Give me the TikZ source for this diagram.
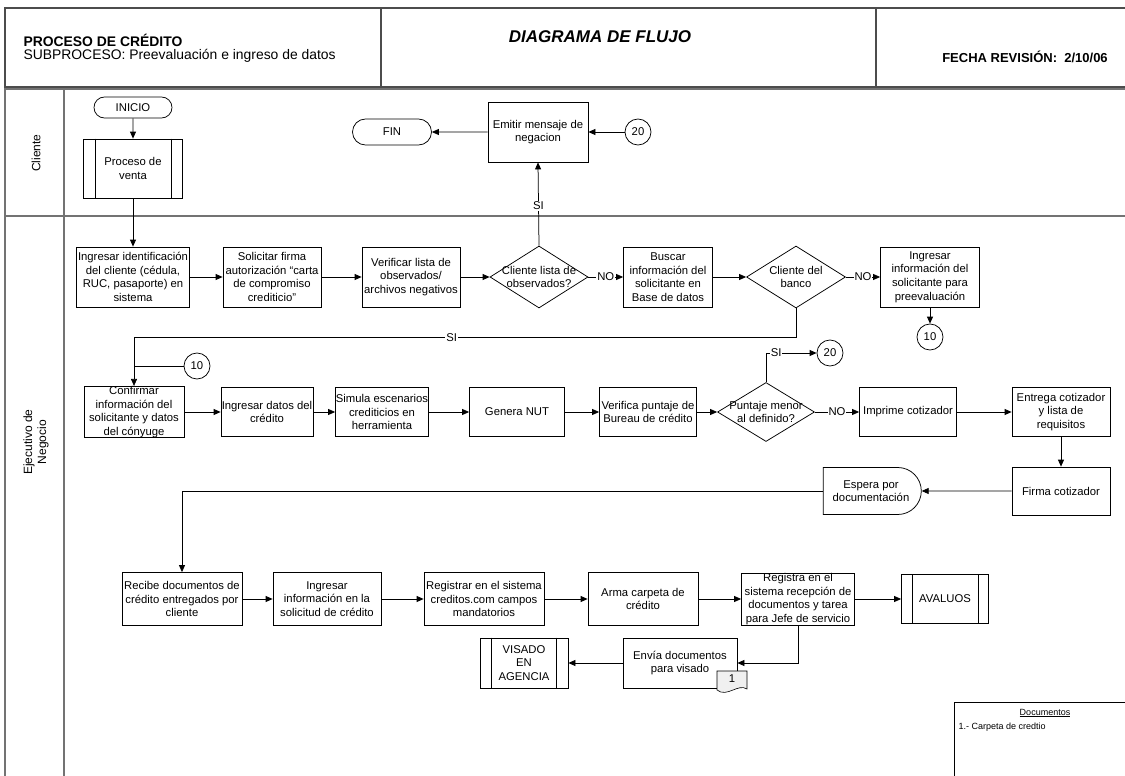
\documentclass[tikz,border=0pt]{standalone}
\usepackage{fontspec}
\setmainfont{Liberation Sans}
\usetikzlibrary{shapes.geometric,shapes.misc,arrows.meta}
\newcommand{\flowfont}{\fontsize{11.3}{13.6}\selectfont}
\newcommand{\lanefont}{\fontsize{12}{14}\selectfont}
\newcommand{\notefont}{\fontsize{9}{11}\selectfont}

\begin{document}
\begin{tikzpicture}[x=1pt,y=-1pt,
  lane/.style={draw=black!55,line width=1.6pt},
  hdrframe/.style={draw=black!70,line width=1.4pt},
  stepbox/.style 2 args={draw,fill=white,line width=0.75pt,minimum width=#1,minimum height=#2,inner sep=0pt,align=center,font=\flowfont},
  decision/.style 2 args={draw,fill=white,line width=0.75pt,diamond,minimum width=#1,minimum height=#2,inner sep=0pt},
  dtext/.style={align=center,font=\flowfont,inner sep=0pt},
  terminal/.style 2 args={draw,fill=white,line width=0.75pt,rounded rectangle,minimum width=#1,minimum height=#2,inner sep=0pt,font=\flowfont},
  waitbox/.style 2 args={draw,fill=white,line width=0.75pt,rounded rectangle,rounded rectangle west arc=none,minimum width=#1,minimum height=#2,inner sep=0pt,align=center,font=\flowfont},
  connector/.style={draw,fill=white,line width=0.75pt,circle,minimum size=26pt,inner sep=0pt,font=\flowfont},
  flow/.style={line width=0.75pt,-{Triangle[length=7pt,width=6pt]}},
  plainline/.style={line width=0.75pt},
  lbl/.style={fill=white,inner sep=1pt,font=\flowfont},
]
\useasboundingbox (0,0) rectangle (1125,776);

% header block (open on the right edge)
\draw[hdrframe] (1135,8) -- (5,8) -- (5,87) -- (1135,87);
\draw[hdrframe] (381,8) -- (381,87);
\draw[hdrframe] (876,8) -- (876,87);
\node[anchor=west,font=\bfseries\fontsize{13.9}{15}\selectfont] (htitle) at (20,40) {PROCESO DE CRÉDITO};
\node[anchor=west,font=\fontsize{13.9}{15}\selectfont] (hsub) at (20,56) {SUBPROCESO: Preevaluación e ingreso de datos};
\node[font=\bfseries\itshape\fontsize{17}{20}\selectfont] (hdiag) at (600,37) {DIAGRAMA DE FLUJO};
\node[font=\bfseries\fontsize{13}{15}\selectfont] (hdate) at (1025,57) {FECHA REVISIÓN:\ \ 2/10/06};

% swimlanes
\draw[lane] (1135,89) -- (5,89) -- (5,780);
\draw[lane] (64,89) -- (64,780);
\draw[lane] (5,216) -- (1135,216);
\node[rotate=90,font=\lanefont] (lcli) at (36,153) {Cliente};
\node[rotate=90,align=center,font=\lanefont] (leje) at (36,442) {Ejecutivo de\\Negocio};

% client lane
\node[terminal={78}{21}] (ini) at (133,107.5) {INICIO};
\node[stepbox={99}{59}] (pv) at (133,168.5) {Proceso de\\venta};
\draw[plainline] ([xshift=12pt]pv.north west) -- ([xshift=12pt]pv.south west);
\draw[plainline] ([xshift=-12pt]pv.north east) -- ([xshift=-12pt]pv.south east);
\node[terminal={79}{26}] (fin) at (392,132) {FIN};
\node[stepbox={100}{60}] (em) at (538,132) {Emitir mensaje de\\negacion};
\node[connector] (c20a) at (638,132) {20};

% first row
\node[stepbox={113}{60}] (b1) at (133,277) {Ingresar identificación\\del cliente (cédula,\\RUC, pasaporte) en\\sistema};
\node[stepbox={98}{60}] (b2) at (272,277) {Solicitar firma\\autorización “carta\\de compromiso\\crediticio”};
\node[stepbox={98}{60}] (b3) at (411,277) {Verificar lista de\\observados/\\archivos negativos};
\node[decision={98}{62}] (d1) at (539,277) {};
\node[dtext] (d1t) at (d1) {Cliente lista de\\observados?};
\node[stepbox={89}{60}] (b4) at (668,277) {Buscar\\información del\\solicitante en\\Base de datos};
\node[decision={99}{62}] (d2) at (796,277) {};
\node[dtext] (d2t) at (d2) {Cliente del\\banco};
\node[stepbox={99}{60}] (b5) at (930,277) {Ingresar\\información del\\solicitante para\\preevaluación};
\node[connector] (c10a) at (930,337) {10};

% second row
\node[stepbox={100}{49}] (c1) at (134,412) {Confirmar\\información del\\solicitante y datos\\del cónyuge};
\node[connector] (c10b) at (197,366) {10};
\node[stepbox={92}{49}] (c2) at (267,412) {Ingresar datos del\\crédito};
\node[stepbox={93}{49}] (c3) at (382,412) {Simula escenarios\\crediticios en\\herramienta};
\node[stepbox={95}{49}] (c4) at (517,412) {Genera NUT};
\node[stepbox={97}{49}] (c5) at (648,412) {Verifica puntaje de\\Bureau de crédito};
\node[decision={97}{59}] (d3) at (766,412) {};
\node[dtext] (d3t) at (d3) {Puntaje menor\\al definido?};
\node[connector] (c20b) at (830,353) {20};
\node[stepbox={97}{49}] (imp) at (908,412) {Imprime cotizador};
\node[stepbox={98}{49}] (ent) at (1061,412) {Entrega cotizador\\y lista de\\requisitos};
\node[stepbox={98}{48}] (fir) at (1061,491) {Firma cotizador};
\node[waitbox={98}{47}] (esp) at (871,491) {Espera por\\documentación};

% third row
\node[stepbox={120}{53}] (r1) at (182,599) {Recibe documentos de\\crédito entregados por\\cliente};
\node[stepbox={108}{53}] (r2) at (327,599) {Ingresar\\información en la\\solicitud de crédito};
\node[stepbox={120}{53}] (r3) at (484,599) {Registrar en el sistema\\creditos.com campos\\mandatorios};
\node[stepbox={110}{53}] (r4) at (643,599) {Arma carpeta de\\crédito};
\node[stepbox={113}{52}] (r5) at (798,599) {Registra en el\\sistema recepción de\\documentos y tarea\\para Jefe de servicio};
\node[stepbox={87}{49}] (av) at (945,599) {AVALUOS};
\draw[plainline] ([xshift=11pt]av.north west) -- ([xshift=11pt]av.south west);
\draw[plainline] ([xshift=-11pt]av.north east) -- ([xshift=-11pt]av.south east);
\node[stepbox={114}{50}] (env) at (680,663) {Envía documentos\\para visado};
\filldraw[fill=black!6,line width=0.6pt] (717,671) -- (747,671) -- (747,689) .. controls (738,683) and (727,698) .. (717,690) -- cycle;
\node[font=\flowfont] (doc1) at (732,679) {1};
\node[stepbox={88}{50}] (vis) at (524,663) {VISADO\\EN\\AGENCIA};
\draw[plainline] ([xshift=12pt]vis.north west) -- ([xshift=12pt]vis.south west);
\draw[plainline] ([xshift=-12pt]vis.north east) -- ([xshift=-12pt]vis.south east);

% document list
\draw[plainline] (954,780) -- (954,702) -- (1135,702);
\node[font=\notefont] (dhead) at (1045,713) {\underline{Documentos}};
\node[anchor=west,font=\notefont] (ditem) at (955,727) {1.- Carpeta de credtio};

% connectors
\draw[flow] (ini) -- (pv);
\draw[flow] (pv) -- (b1);
\draw[flow] (em) -- (fin);
\draw[flow] (c20a) -- (em);
\draw[flow] (b1) -- (b2);
\draw[flow] (b2) -- (b3);
\draw[flow] (b3) -- (d1);
\draw[flow] (d1.north) -- node[lbl,pos=0.48] {SI} (em.south);
\draw[flow] (d1.east) -- node[lbl] {NO} (b4.west);
\draw[flow] (b4) -- (d2);
\draw[flow] (d2.east) -- node[lbl] {NO} (b5.west);
\draw[flow] (b5) -- (c10a);
\draw[flow] (d2.south) -- ++(0,29) -| node[lbl,pos=0.26] {SI} (c1.north);
\draw[plainline] (c10b.west) -- (c10b.west -| c1.north);
\draw[flow] (c1) -- (c2);
\draw[flow] (c2) -- (c3);
\draw[flow] (c3) -- (c4);
\draw[flow] (c4) -- (c5);
\draw[flow] (c5) -- (d3);
\draw[flow] (d3.north) |- node[lbl,pos=0.6] {SI} (c20b.west);
\draw[flow] (d3.east) -- node[lbl] {NO} (imp.west);
\draw[flow] (imp) -- (ent);
\draw[flow] (ent) -- (fir);
\draw[flow] (fir) -- (esp);
\draw[flow] (esp.west) -| (r1.north);
\draw[flow] (r1) -- (r2);
\draw[flow] (r2) -- (r3);
\draw[flow] (r3) -- (r4);
\draw[flow] (r4) -- (r5);
\draw[flow] (r5) -- (av);
\draw[flow] (r5.south) |- (env.east);
\draw[flow] (env) -- (vis);
\end{tikzpicture}
\end{document}
